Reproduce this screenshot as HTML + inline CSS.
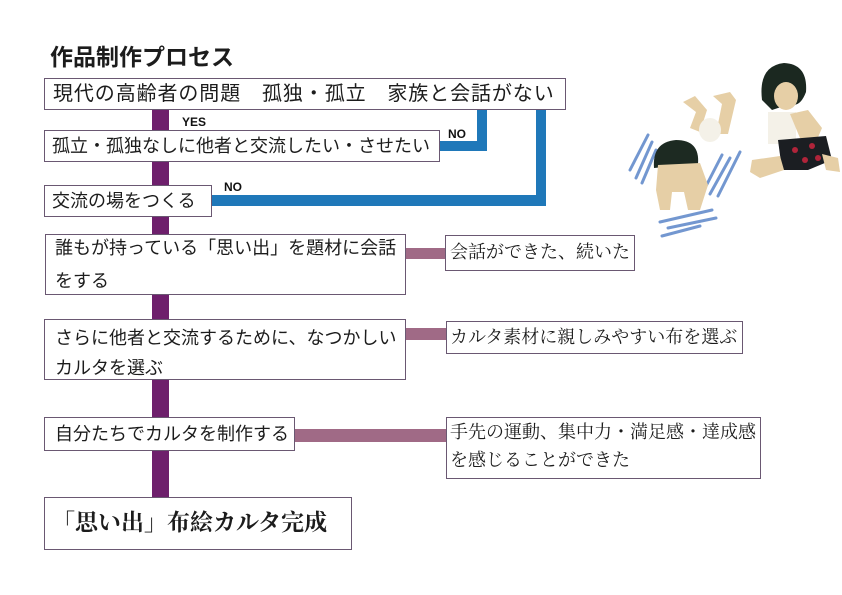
<!DOCTYPE html>
<html><head><meta charset="utf-8"><style>
html,body{margin:0;padding:0;background:#fff;}
#c{position:relative;width:842px;height:595px;overflow:hidden;background:#fff;font-family:"Liberation Sans","Noto Sans CJK JP",sans-serif;color:#1c1c1c;}
.bx{position:absolute;box-sizing:border-box;border:1.5px solid #6a5872;background:#fff;}
.t{position:absolute;white-space:nowrap;font-size:18px;}
.bar{position:absolute;}
.p{background:#6e1f6c;}
.m{background:#a06a86;}
.b{background:#1f78b9;}
.lb{position:absolute;font-family:"Liberation Sans","DejaVu Sans",sans-serif;font-weight:bold;font-size:12px;line-height:12px;color:#111;}
.serif{font-family:"Liberation Serif","Noto Serif CJK SC",serif;}
</style></head><body><div id="c">

<div class="t" style="left:50px;top:42px;font-size:23px;font-weight:bold;line-height:30px;">作品制作プロセス</div>

<!-- purple spine -->
<div class="bar p" style="left:152px;top:108px;width:17px;height:391px;"></div>

<!-- blue connectors -->
<div class="bar b" style="left:477px;top:109px;width:10px;height:42px;"></div>
<div class="bar b" style="left:439px;top:141px;width:48px;height:10px;"></div>
<div class="bar b" style="left:536px;top:109px;width:10px;height:97px;"></div>
<div class="bar b" style="left:211px;top:195px;width:335px;height:11px;"></div>

<!-- mauve connectors -->
<div class="bar m" style="left:405px;top:248px;width:41px;height:11px;"></div>
<div class="bar m" style="left:405px;top:328px;width:42px;height:12px;"></div>
<div class="bar m" style="left:294px;top:429px;width:153px;height:13px;"></div>

<!-- labels -->
<div class="lb" style="left:182px;top:116px;">YES</div>
<div class="lb" style="left:448px;top:128px;">NO</div>
<div class="lb" style="left:224px;top:181px;">NO</div>

<!-- boxes -->
<div class="bx" style="left:44px;top:78px;width:522px;height:32px;"></div>
<div class="t" style="left:53px;top:79px;font-size:20px;letter-spacing:0.9px;line-height:30px;">現代の高齢者の問題　孤独・孤立　家族と会話がない</div>

<div class="bx" style="left:44px;top:130px;width:396px;height:32px;"></div>
<div class="t" style="left:52px;top:131px;line-height:30px;">孤立・孤独なしに他者と交流したい・させたい</div>

<div class="bx" style="left:44px;top:185px;width:168px;height:32px;"></div>
<div class="t" style="left:52px;top:186px;line-height:30px;">交流の場をつくる</div>

<div class="bx" style="left:45px;top:234px;width:361px;height:61px;"></div>
<div class="t" style="left:55px;top:232px;line-height:33px;">誰もが持っている「思い出」を題材に会話<br>をする</div>

<div class="bx" style="left:44px;top:319px;width:362px;height:61px;"></div>
<div class="t" style="left:55px;top:323px;line-height:30px;">さらに他者と交流するために、なつかしい<br>カルタを選ぶ</div>

<div class="bx" style="left:44px;top:417px;width:251px;height:34px;"></div>
<div class="t" style="left:55px;top:419px;line-height:31px;">自分たちでカルタを制作する</div>

<div class="bx" style="left:44px;top:497px;width:308px;height:53px;"></div>
<div class="t serif" style="left:52px;top:507px;font-size:23px;font-weight:bold;line-height:32px;">「思い出」布絵カルタ完成</div>

<div class="bx" style="left:445px;top:235px;width:190px;height:36px;"></div>
<div class="t serif" style="left:450px;top:237px;line-height:30px;">会話ができた、続いた</div>

<div class="bx" style="left:446px;top:321px;width:297px;height:33px;"></div>
<div class="t serif" style="left:450px;top:322px;line-height:30px;">カルタ素材に親しみやすい布を選ぶ</div>

<div class="bx" style="left:446px;top:417px;width:315px;height:62px;"></div>
<div class="t serif" style="left:450px;top:418px;line-height:28px;">手先の運動、集中力・満足感・達成感<br>を感じることができた</div>

<!-- illustration -->
<svg style="position:absolute;left:0;top:0;" width="842" height="595" viewBox="0 0 842 595">
  <g stroke="#5b86c8" stroke-width="3" stroke-linecap="round" opacity="0.85">
    <line x1="630" y1="170" x2="648" y2="135"/>
    <line x1="636" y1="178" x2="652" y2="142"/>
    <line x1="642" y1="183" x2="656" y2="150"/>
    <line x1="704" y1="190" x2="722" y2="155"/>
    <line x1="710" y1="194" x2="730" y2="158"/>
    <line x1="718" y1="196" x2="740" y2="152"/>
    <line x1="660" y1="222" x2="712" y2="210"/>
    <line x1="668" y1="228" x2="716" y2="218"/>
    <line x1="662" y1="236" x2="700" y2="226"/>
  </g>
  <!-- left child -->
  <polygon points="683,102 695,96 707,110 700,132 690,128 696,112" fill="#e6cfa6"/>
  <polygon points="713,96 730,92 736,100 728,134 716,134 722,104" fill="#e6cfa6"/>
  <ellipse cx="710" cy="130" rx="11" ry="12" fill="#f4f1e8"/>
  <path d="M654,168 Q652,142 676,140 Q700,140 698,164 Z" fill="#1d2a22"/>
  <polygon points="658,165 700,163 708,185 700,210 688,210 684,192 672,192 670,210 660,210 656,190" fill="#e6cfa6"/>
  <!-- right child -->
  <path d="M762,100 Q758,66 784,63 Q808,64 806,92 Q800,108 790,104 L772,110 Z" fill="#1b2820"/>
  <ellipse cx="786" cy="96" rx="12" ry="14" fill="#e6cfa6"/>
  <rect x="768" y="112" width="28" height="32" fill="#f4f1e8"/>
  <polygon points="790,114 808,110 822,128 816,142 800,138" fill="#e6cfa6"/>
  <polygon points="778,140 826,136 832,160 808,170 782,170" fill="#1b1e22"/>
  <circle cx="795" cy="150" r="3" fill="#b0243a"/>
  <circle cx="812" cy="146" r="3" fill="#b0243a"/>
  <circle cx="805" cy="160" r="3" fill="#b0243a"/>
  <circle cx="818" cy="158" r="3" fill="#b0243a"/>
  <polygon points="752,160 780,156 784,170 760,178 750,172" fill="#e6cfa6"/>
  <polygon points="822,154 838,158 840,172 826,170" fill="#e6cfa6"/>
</svg>
</div></body></html>
